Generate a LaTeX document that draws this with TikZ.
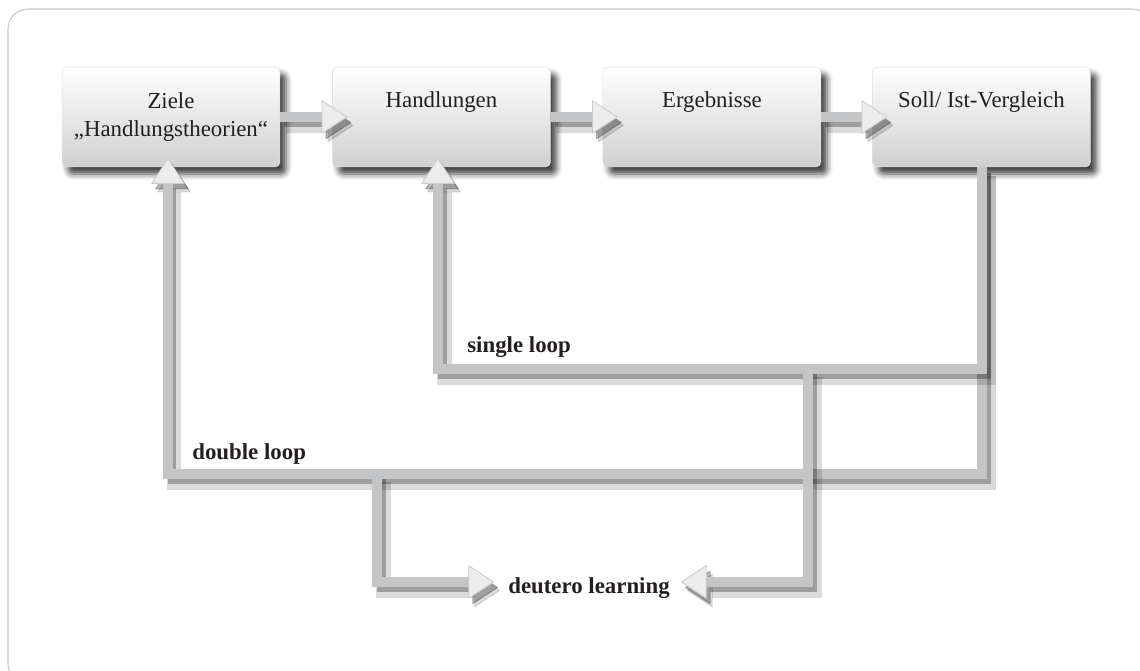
\documentclass[tikz,border=0pt]{standalone}
\usepackage{fontspec}
\setmainfont{Liberation Serif}
\usetikzlibrary{positioning}
\usetikzlibrary{arrows.meta,shadows.blur}

\definecolor{loopgray}{RGB}{196,197,199}
\definecolor{boxgray}{RGB}{208,208,210}
\definecolor{framegray}{RGB}{200,200,200}
\definecolor{tipfill}{RGB}{236,236,237}
\definecolor{inkgray}{RGB}{35,31,32}

\tikzset{
  box/.style={rectangle, rounded corners=0.1cm, draw=black!12, line width=0.3pt,
              top color=white, bottom color=boxgray,
              minimum width=4.36cm, minimum height=2cm, inner sep=0pt, align=center,
              blur shadow={shadow xshift=0.12cm, shadow yshift=-0.14cm,
                           shadow blur radius=0.12cm, shadow opacity=75}},
  onerow/.style={text height=0.32cm, text depth=0.68cm},
  looplabel/.style={anchor=base west, inner sep=0pt,
                    font=\fontsize{13pt}{15.5pt}\selectfont\bfseries},
  gtip/.tip={Triangle[length=0.52cm, width=0.68cm, round, fill=tipfill,
                      color=black!20, line width=0.5pt]},
  stip/.tip={Triangle[length=0.52cm, width=0.68cm, round, fill=black,
                      color=black, line width=0.5pt]},
  fbline/.style={draw=loopgray, line width=0.19cm, -gtip,
                 preaction={draw=black, opacity=0.14, line width=0.3cm, -stip,
                            transform canvas={shift={(0.12cm,-0.17cm)}}},
                 preaction={draw=black, opacity=0.28, line width=0.18cm, -stip,
                            transform canvas={shift={(0.08cm,-0.11cm)}}}},
}

\begin{document}
\begin{tikzpicture}[x=0.02cm, y=-0.02cm, text=inkgray,
                    font=\fontsize{13pt}{15.5pt}\selectfont]

        \useasboundingbox (0,0) rectangle (1140,671);
        \draw [framegray, line width=0.6pt, rounded corners=0.4cm] (8,9) rectangle (1152,684);

        % the four steps
        \node (ziele) [box] at (171,117) {Ziele\\„Handlungstheorien“};
        \node (handl) [box, onerow, right=1.04cm of ziele] {Handlungen};
        \node (ergeb) [box, onerow, right=1.04cm of handl] {Ergebnisse};
        \node (soll)  [box, onerow, right=1.02cm of ergeb] {Soll/ Ist-Vergleich};

        \node (single)  [looplabel] at (467,353) {single loop};
        \node (double)  [looplabel] at (192,460) {double loop};
        \node (deutero) [looplabel, anchor=base] at (589,594) {deutero learning};

        \coordinate (sbend) at (982,369);
        \coordinate (dbend) at (982,474);
        \coordinate (sleft) at (438,369);
        \coordinate (dleft) at (168,474);
        \coordinate (sdrop) at (808,369);
        \coordinate (ddrop) at (377,474);
        \coordinate (dlin)  at (0,582);

        \draw [fbline] (ziele.east) -- ([xshift=0.3cm]handl.west);
        \draw [fbline] (handl.east) -- ([xshift=0.3cm]ergeb.west);
        \draw [fbline] (ergeb.east) -- ([xshift=0.3cm]soll.west);

        % loops back
        \draw [fbline] (soll.south -| dbend) -- (dbend) -- (dleft) -- ([yshift=0.18cm]ziele.south -| dleft);
        \draw [fbline] (soll.south -| sbend) -- (sbend) -- (sleft) -- ([yshift=0.18cm]handl.south -| sleft);

        \draw [fbline] (sdrop) -- (sdrop |- dlin) -- ([xshift=0.22cm]deutero.east |- dlin);
        \draw [fbline] (ddrop) -- (ddrop |- dlin) -- ([xshift=-0.28cm]deutero.west |- dlin);

    \end{tikzpicture}
\end{document}
